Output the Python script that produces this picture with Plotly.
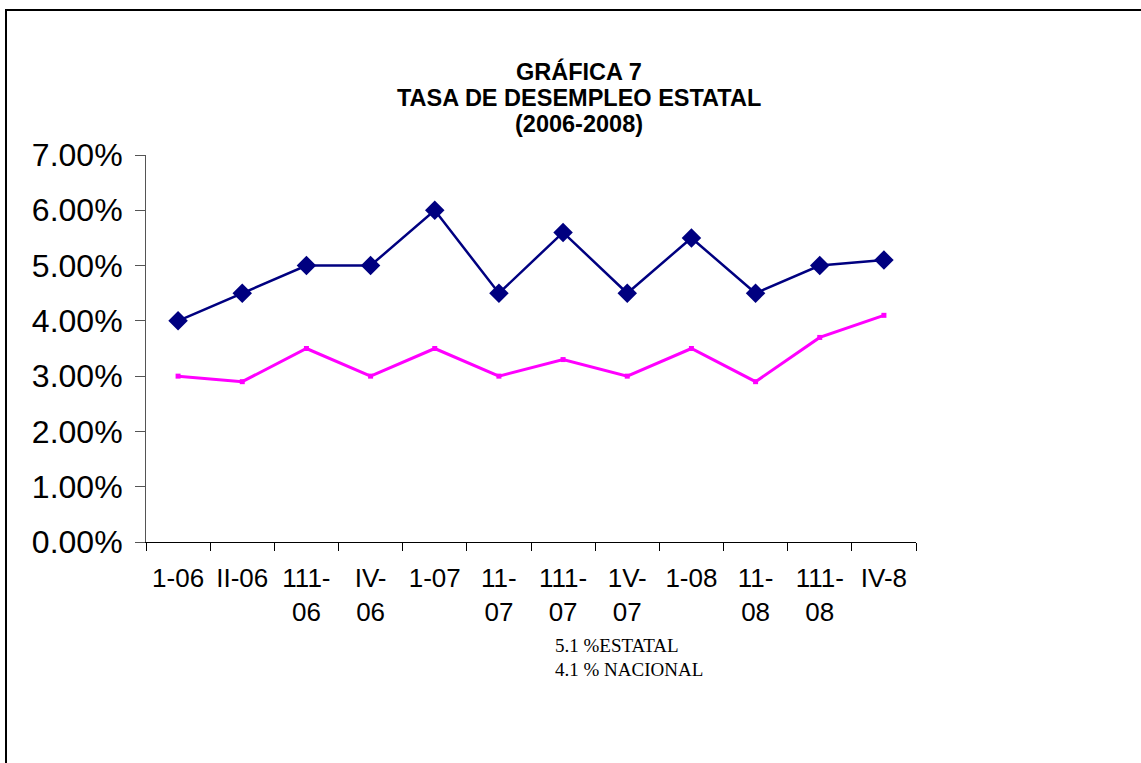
import plotly.graph_objects as go

categories = ["1-06", "II-06", "111-<br>06", "IV-<br>06", "1-07", "11-<br>07",
              "111-<br>07", "1V-<br>07", "1-08", "11-<br>08", "111-<br>08", "IV-8"]
estatal = [4.0, 4.5, 5.0, 5.0, 6.0, 4.5, 5.6, 4.5, 5.5, 4.5, 5.0, 5.1]
nacional = [3.0, 2.9, 3.5, 3.0, 3.5, 3.0, 3.3, 3.0, 3.5, 2.9, 3.7, 4.1]
title_lines = ["GRÁFICA 7", "TASA DE DESEMPLEO ESTATAL", "(2006-2008)"]
notes = ["5.1 %ESTATAL", "4.1 % NACIONAL"]

W, H = 1141, 763
L, R, T, B = 146, 916, 155, 542

def px(x):
    return (x - L) / (R - L)

def py(y):
    return (B - y) / (B - T)

fig = go.Figure()
fig.add_trace(go.Scatter(
    x=categories, y=[v / 100 for v in estatal], mode="lines+markers",
    line=dict(color="#000080", width=2.5),
    marker=dict(symbol="diamond", size=15, color="#000080"),
    name="Estatal", showlegend=False))
fig.add_trace(go.Scatter(
    x=categories, y=[v / 100 for v in nacional], mode="lines+markers",
    line=dict(color="#FF00FF", width=3),
    marker=dict(symbol="square", size=5, color="#FF00FF"),
    name="Nacional", showlegend=False))

fig.update_layout(
    width=W, height=H,
    margin=dict(l=L, r=W - R, t=T, b=H - B),
    paper_bgcolor="white", plot_bgcolor="white",
    font=dict(family="Liberation Sans, Arial", color="black"),
    xaxis=dict(type="category", showgrid=False, showline=True, linecolor="black",
               linewidth=1, ticks="outside", tickson="boundaries", ticklen=8,
               tickcolor="black", tickfont=dict(size=26), zeroline=False,
               range=[-0.5, 11.5], ticklabelstandoff=13),
    yaxis=dict(range=[0, 0.07], dtick=0.01, tickformat=".2%", showgrid=False,
               showline=True, linecolor="#555555", linewidth=1, ticks="outside",
               ticklen=10, tickcolor="#555555", tickfont=dict(size=32), zeroline=False,
               ticklabelstandoff=6),
)

ys = [71, 98, 124]
for t, yy in zip(title_lines, ys):
    fig.add_annotation(x=px(579), y=py(yy), xref="paper", yref="paper", text="<b>%s</b>" % t,
                       showarrow=False, font=dict(size=23.5, family="Liberation Sans, Arial"),
                       xanchor="center", yanchor="middle")
for t, yy in zip(notes, [645, 669]):
    fig.add_annotation(x=px(553), y=py(yy), xref="paper", yref="paper", text=t,
                       showarrow=False, font=dict(size=19, family="Liberation Serif, Times New Roman"),
                       xanchor="left", yanchor="middle")

# outer border
fig.add_shape(type="line", xref="paper", yref="paper", x0=px(5), x1=px(1160), y0=py(10), y1=py(10),
              line=dict(color="black", width=2))
fig.add_shape(type="line", xref="paper", yref="paper", x0=px(6), x1=px(6), y0=py(9), y1=py(780),
              line=dict(color="black", width=2))

fig.write_html("out.html", config={"displayModeBar": False},
               post_script="document.body.style.margin='0px';")
